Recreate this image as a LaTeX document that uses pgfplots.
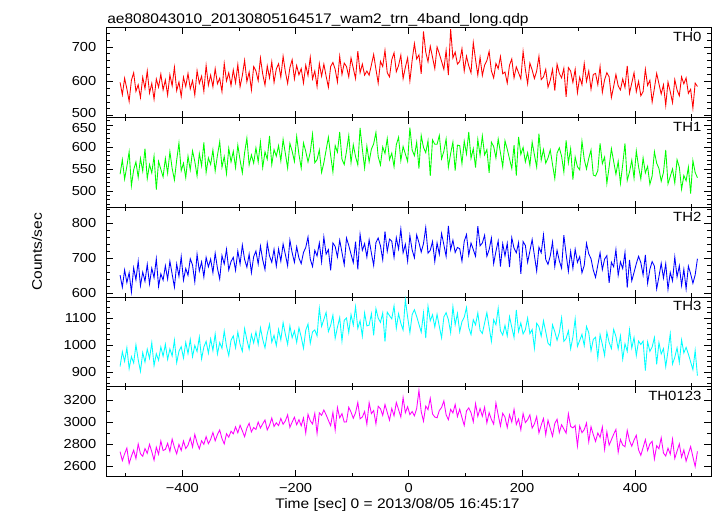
\documentclass[border=0pt]{standalone}
\usepackage{fontspec}
\setmainfont{Liberation Sans}[FakeStretch=1.12]
\usepackage{pgfplots}
\usepackage{pgfplotstable}
\pgfplotsset{compat=1.18}
\definecolor{qred}{RGB}{255,0,0}
\definecolor{qgreen}{RGB}{0,255,0}
\definecolor{qblue}{RGB}{0,0,255}
\definecolor{qcyan}{RGB}{0,255,255}
\definecolor{qmagenta}{RGB}{255,0,255}

\pgfplotstableread{
t a b c d e
-510 597 538 652 921 2731
-506 561 571 618 975 2650
-502 609 527 667 940 2712
-498 578 556 631 990 2764
-494 542 589 659 913 2622
-490 603 512 604 957 2690
-486 625 548 673 934 2745
-482 571 566 639 1001 2668
-478 590 531 692 946 2801
-474 553 574 622 903 2713
-470 612 545 661 972 2689
-466 579 596 635 937 2760
-462 630 528 683 985 2716
-458 566 560 627 951 2798
-454 594 541 672 1009 2731
-450 548 579 645 924 2654
-446 607 503 699 968 2772
-442 583 567 620 944 2708
-438 621 549 656 993 2829
-434 575 532 638 959 2741
-430 604 574 679 1003 2752
-426 560 540 641 947 2808
-422 619 589 692 986 2733
-418 587 551 655 960 2846
-414 641 525 618 1018 2770
-410 573 570 684 935 2711
-406 598 609 649 977 2797
-402 556 546 705 994 2742
-398 612 563 638 952 2829
-394 585 530 671 1010 2760
-390 623 579 652 968 2790
-386 578 548 699 1021 2856
-382 602 591 681 957 2773
-378 560 567 633 999 2888
-374 631 534 712 976 2812
-370 594 585 664 1030 2757
-366 615 557 690 949 2831
-362 571 610 647 993 2798
-358 646 542 703 1014 2869
-354 589 575 676 970 2804
-350 618 560 698 1023 2843
-346 584 593 659 980 2906
-342 637 545 715 1041 2830
-338 593 581 672 967 2887
-334 609 612 641 1009 2929
-330 570 554 708 988 2851
-326 652 578 684 1052 2802
-322 601 539 726 996 2895
-318 625 597 667 961 2863
-314 588 566 691 1018 2918
-310 633 590 703 1034 2894
-306 596 553 666 990 2957
-302 649 604 721 1048 2903
-298 584 570 684 1003 2972
-294 617 541 738 977 2921
-290 661 587 697 1061 2868
-286 599 620 675 1020 2946
-282 627 559 712 985 2990
-278 575 582 659 1039 2912
-274 643 563 705 1008 2951
-270 630 598 721 1049 2934
-266 602 566 684 1003 3001
-262 668 611 735 1064 2947
-258 621 553 696 1021 2985
-254 589 589 668 990 3020
-250 645 572 744 1042 2929
-246 610 625 707 1077 2972
-242 657 560 689 1011 3038
-238 597 594 726 1036 2961
-234 636 579 678 998 2994
-230 651 603 727 1058 2969
-226 612 568 692 1019 3034
-222 673 617 741 1083 2981
-218 628 585 711 1040 3012
-214 594 552 679 1003 3067
-210 640 608 752 1071 2953
-206 663 590 716 1027 3001
-202 607 567 689 1052 3045
-198 646 624 733 1010 2977
-194 619 583 701 1064 3023
-190 637 552 685 1030 2967
-186 595 609 717 988 3039
-182 647 590 731 1055 2901
-178 617 566 761 1078 3072
-174 670 588 698 1007 3012
-170 607 629 677 1049 2984
-166 630 564 723 1056 3080
-162 585 571 707 1034 2898
-158 652 593 744 1136 3085
-154 615 542 690 1069 3063
-150 650 564 761 1095 3111
-146 615 593 712 1121 3067
-142 583 622 725 1050 3017
-138 643 581 666 1073 2968
-134 655 543 744 1111 3089
-130 635 603 734 1025 2929
-126 598 588 704 1066 3133
-122 673 634 752 1102 3039
-118 620 572 717 1015 3078
-114 653 560 682 1092 3001
-110 643 590 758 1100 3003
-106 613 626 737 1046 3136
-102 668 564 712 1113 3092
-98 638 605 688 1074 3036
-94 608 578 748 1142 3086
-90 688 559 669 1062 3180
-86 625 643 769 1090 3031
-82 650 595 723 1033 3047
-78 618 552 742 1119 3097
-74 630 602 704 1071 2981
-70 618 566 753 1074 3178
-66 648 595 715 1116 3078
-62 678 607 680 1036 3106
-58 635 633 745 1135 2985
-54 595 578 758 1100 3145
-50 658 559 736 1084 3123
-46 643 600 696 1119 3062
-42 690 585 777 1013 3161
-38 625 619 720 1122 3089
-34 613 571 755 1109 3018
-30 663 586 749 1097 3125
-26 683 555 703 1145 3058
-22 628 605 759 1062 3180
-18 646 622 727 1116 3114
-14 676 569 784 1081 3047
-10 608 601 716 1056 3224
-6 641 584 740 1168 3086
-2 668 567 692 1104 3141
2 601 644 765 1046 3069
6 661 593 724 1113 3097
10 710 580 702 1131 3058
14 665 611 767 1106 3125
18 677 551 745 1077 3290
22 622 626 718 1048 3097
26 745 599 742 1119 3009
30 685 587 788 1026 3147
34 657 614 715 1144 3114
38 702 534 723 1090 3218
42 670 616 748 1112 3075
46 637 606 691 1067 3047
50 700 606 744 1114 3040
54 680 626 712 1069 3106
58 658 573 771 1027 3134
62 635 590 739 1104 3194
66 690 618 706 1120 3067
70 618 554 793 1094 3023
74 752 585 725 1046 3117
78 668 611 752 1142 3084
82 685 546 717 1075 3161
86 650 604 731 1117 3051
90 658 603 728 1049 3119
94 695 562 692 1087 3042
98 630 613 749 1103 2970
102 673 584 768 1139 3103
106 645 634 709 1065 3130
110 625 574 744 1039 3086
114 713 596 725 1094 3003
118 663 553 706 1075 3169
122 618 617 792 1119 3053
126 670 581 736 1055 3125
130 617 625 744 1043 3054
134 647 582 766 1082 3136
138 660 594 706 1120 2993
142 687 541 725 1066 3087
146 630 611 758 1014 3026
150 610 601 685 1094 2982
154 652 575 720 1075 3175
158 637 618 750 1136 3065
162 672 587 677 1053 2965
166 622 555 742 1037 3081
170 627 614 707 1073 3046
174 595 595 743 1034 2952
178 647 573 675 1105 3068
182 665 551 759 1066 3001
186 610 604 729 1028 3117
190 642 535 716 1130 2979
194 625 623 745 1050 3029
198 607 583 656 1082 2930
202 687 599 748 1041 3079
206 635 566 737 1057 2996
210 593 587 689 1100 3023
214 653 558 721 1042 3067
218 633 611 754 1058 2946
222 608 582 708 988 2984
226 630 554 664 1081 3051
230 673 630 732 1068 2902
234 605 570 716 1033 2973
238 613 594 767 1090 3034
242 635 563 697 1049 2885
246 583 575 683 1007 3018
250 603 593 707 998 2944
254 635 560 747 1075 2872
258 573 528 677 1050 2988
262 650 586 723 1018 3027
266 623 598 693 1046 2905
270 610 579 672 1101 2977
274 638 543 766 1014 2938
278 555 615 712 1024 2900
282 640 564 663 1053 3076
286 630 596 720 986 2961
290 597 526 672 1030 2948
294 635 577 726 1097 2970
298 567 555 689 995 2783
302 612 548 705 1017 2965
306 590 613 659 1040 2904
310 652 572 680 998 2932
314 600 550 743 1069 2992
318 630 574 713 1046 2821
322 577 593 699 979 2959
326 620 536 667 1021 2887
330 623 534 646 1029 2824
334 590 546 681 952 2901
338 643 608 716 1039 2862
342 568 562 668 1003 2956
346 605 577 698 962 2752
350 625 517 708 1048 2912
354 613 555 630 1010 2791
358 553 596 689 987 2840
362 585 567 676 1058 2890
366 620 538 725 1032 2934
370 587 567 652 986 2726
374 575 517 690 1034 2842
378 607 560 671 948 2792
382 582 608 717 1005 2776
386 645 524 617 977 2925
390 565 543 696 1057 2831
394 595 570 636 989 2781
398 625 529 660 1028 2837
402 570 591 685 961 2881
406 600 555 706 1015 2748
410 558 527 688 1002 2698
414 570 575 653 1015 2769
418 635 541 710 906 2841
422 588 556 629 1012 2742
426 603 515 669 977 2803
430 540 534 691 993 2825
434 580 589 678 1028 2665
438 623 563 613 929 2786
442 593 551 648 1009 2758
446 563 522 686 967 2858
450 590 542 644 987 2719
454 530 593 685 920 2691
458 598 516 612 978 2763
462 570 533 660 1042 2708
466 538 550 636 930 2846
470 605 518 704 955 2669
474 575 571 647 990 2736
478 558 554 679 936 2802
482 613 504 623 1019 2680
486 593 535 669 971 2747
490 610 523 613 992 2645
494 565 554 678 967 2712
498 577 494 656 938 2778
502 522 569 629 909 2684
506 595 542 653 980 2596
510 585 530 699 887 2734
}\data

\pgfplotsset{
  panel/.style={
    scale only axis, width=453.375pt, height=67.32pt,
    anchor=south west,
    xmin=-534, xmax=534,
    xtick={-400,-200,0,200,400},
    minor xtick={-500,-300,-100,100,300,500},
    xticklabels={},
    tick align=inside,
    major tick length=5pt, minor tick length=2.7pt,
    every tick/.style={black, line width=0.6pt},
    axis line style={line width=0.7pt},
    scaled ticks=false,
    /pgf/number format/assume math mode=true,
    /pgf/number format/1000 sep={},
    tick label style={font=\fontsize{9.8}{10}\selectfont},
    yticklabel style={anchor=east, inner sep=0pt, xshift=-7.5pt},
    clip=true,
  },
  series/.style={line width=0.65pt, no markers, line join=miter},
}
\tikzset{
  thlab/.style={anchor=north east, inner sep=0pt, xshift=-7pt, yshift=-3.2pt, font=\fontsize{10}{11}\selectfont},
}

\begin{document}
\begin{tikzpicture}
\path[use as bounding box] (0,0) rectangle (537.75pt,387pt);

% TH0
\begin{axis}[panel, at={(79.875pt,298.905pt)},
  ymin=495, ymax=756, ytick={600,700}, minor ytick={500,520,...,740},
  extra y ticks={500},
  extra y tick style={yticklabel style={yshift=2.2pt}}]
\addplot[qred, series] table[x=t, y=a] {\data};
\node[thlab] at (rel axis cs:1,1) {TH0};
\end{axis}

% TH1
\begin{axis}[panel, at={(79.875pt,231.585pt)},
  ymin=463, ymax=667, ytick={500,550,600}, minor ytick={470,480,...,660},
  extra y ticks={650},
  extra y tick style={yticklabel style={yshift=-2.2pt}}]
\addplot[qgreen, series] table[x=t, y=b] {\data};
\node[thlab] at (rel axis cs:1,1) {TH1};
\end{axis}

% TH2
\begin{axis}[panel, at={(79.875pt,164.265pt)},
  ymin=590, ymax=846, ytick={600,700,800}, minor ytick={600,620,...,840}]
\addplot[qblue, series] table[x=t, y=c] {\data};
\node[thlab] at (rel axis cs:1,1) {TH2};
\end{axis}

% TH3
\begin{axis}[panel, at={(79.875pt,96.945pt)},
  ymin=846, ymax=1178, ytick={900,1000,1100}, minor ytick={860,880,...,1160}]
\addplot[qcyan, series] table[x=t, y=d] {\data};
\node[thlab] at (rel axis cs:1,1) {TH3};
\end{axis}

% TH0123
\begin{axis}[panel, at={(79.875pt,29.625pt)},
  ymin=2505, ymax=3323, ytick={2600,2800,3000,3200}, minor ytick={2600,2700,...,3300},
  xticklabels={−400,−200,0,200,400},
  xticklabel style={anchor=north, inner sep=0pt, yshift=-5.1pt}]
\addplot[qmagenta, series] table[x=t, y=e] {\data};
\node[thlab] at (rel axis cs:1,1) {TH0123};
\end{axis}

\node[anchor=base west, inner sep=0pt, font=\fontsize{10.4}{12}\selectfont] at (80.25pt,369.3pt) {ae808043010\_20130805164517\_wam2\_trn\_4band\_long.qdp};
\node[anchor=base, inner sep=0pt, font=\fontsize{10.4}{12}\selectfont] at (298.1pt,5.25pt) {Time [sec] 0 = 2013/08/05 16:45:17};
\node[rotate=90, inner sep=0pt, font=\fontsize{10.4}{12}\selectfont] at (27.75pt,198pt) {Counts/sec};
\end{tikzpicture}
\end{document}
